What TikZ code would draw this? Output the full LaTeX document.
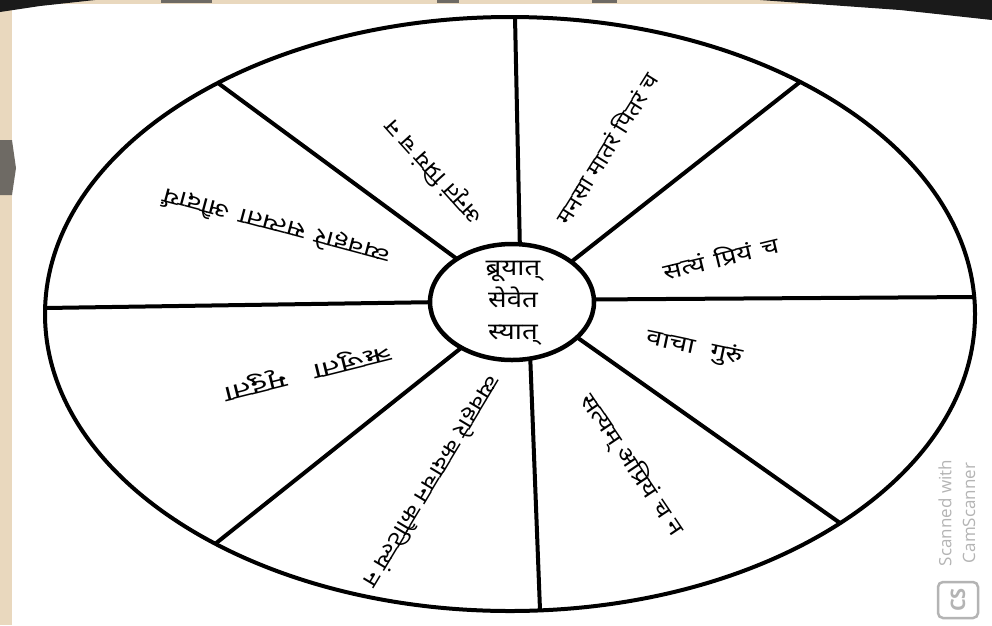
\documentclass[tikz,border=0pt]{standalone}
\usepackage{fontspec}
\usetikzlibrary{shapes.geometric}
\newfontfamily\dev[Script=Devanagari]{Noto Sans}
\newfontfamily\wm{Open Sans}
\definecolor{scanbeige}{HTML}{E9D8BE}
\definecolor{scandark}{HTML}{1A1A1A}
\definecolor{scangray}{HTML}{6E6A64}
\definecolor{wmgray}{HTML}{B4B4B4}
\newcommand\gap[1]{\hspace{#1pt}}
\begin{document}
\begin{tikzpicture}[x=1pt,y=-1pt,
  rim/.style={line width=4pt, draw=black},
  spoke/.style={line width=4pt, draw=black},
  lbl/.style={font=\dev\fontsize{22}{26}\selectfont, inner sep=0pt},
  hubtext/.style={font=\dev\fontsize{23}{32}\selectfont, align=center, inner sep=0pt, xscale=1.2},
  wmtext/.style={font=\wm\fontsize{17}{20}\selectfont, text=wmgray, inner sep=0pt, rotate=90}]
\useasboundingbox (0,0) rectangle (992,625);
\fill[white] (0,0) rectangle (992,625);
% scan edges
\fill[scanbeige] (0,0) rectangle (12,625);
\fill[scanbeige] (0,0) rectangle (992,4);
\fill[scandark] (0,0) -- (95,0) -- (40,6) -- (0,12) -- cycle;
\fill[scandark] (760,0) -- (992,0) -- (992,20) -- (900,10) -- cycle;
\fill[scangray] (161,0) rectangle (212,3);
\fill[scangray] (437,0) rectangle (459,3);
\fill[scangray] (592,0) rectangle (617,3);
\fill[scangray] (0,140) -- (12,140) -- (16,168) -- (12,195) -- (0,195) -- cycle;

% outer wheel
\coordinate (O) at (510,314);
\draw[rim] (O) ellipse [x radius=465pt, y radius=297pt];

% spoke ends on the rim
\coordinate (o1) at (515,17);
\coordinate (o2) at (800,82);
\coordinate (o3) at (974,297);
\coordinate (o4) at (840,523);
\coordinate (o5) at (540,610);
\coordinate (o6) at (215,544);
\coordinate (o7) at (45,308);
\coordinate (o8) at (218,83);
% spoke ends under the hub
\coordinate (i1) at (521,300);
\coordinate (i2) at (510,310);
\coordinate (i3) at (510,300);
\coordinate (i4) at (510,290);
\coordinate (i5) at (528,300);
\coordinate (i6) at (510,309);
\coordinate (i7) at (510,301);
\coordinate (i8) at (510,298);
\foreach \k in {1,...,8} \draw[spoke] (o\k) -- (i\k);

% hub
\node[ellipse, draw, line width=4.5pt, fill=white, minimum width=164pt, minimum height=116pt] (hub) at (512,302) {};
\node[hubtext] (hubt) at (513,303) {ब्रूयात्\\सेवेत\\स्यात्};

% sector labels
\node[lbl, rotate=58, xscale=1.1] (t1) at (606,148) {मनसा मातरं पितरं च};
\node[lbl, rotate=13.5, xscale=1.25] (t2) at (721,257) {सत्यं\gap{8}प्रियं\gap{8}च};
\node[lbl, rotate=-12, xscale=1.3] (t3) at (695,348) {वाचा\gap{12}गुरुं};
\node[lbl, rotate=-56, xscale=1.2] (t4) at (632,465) {सत्यम् अप्रियं च न};
\node[lbl, rotate=239, xscale=1.15] (t5) at (432,482) {व्यवहारे कदाचन कौटिल्यं न};
\node[lbl, rotate=194, xscale=1.5] (t6) at (307,371) {ऋजुता\gap{18}मृदुता};
\node[lbl, rotate=165, xscale=1.3] (t7) at (276,226) {व्यवहारे\gap{8}सत्यता\gap{8}औदार्यं};
\node[lbl, rotate=132, xscale=1.15] (t8) at (434,172) {अनृतं प्रियं च न};

% watermark
\node[wmtext] (wm1) at (945,513) {Scanned with};
\node[wmtext] (wm2) at (969,513) {CamScanner};
\node[draw=wmgray, line width=2.5pt, rounded corners=5pt, minimum width=40pt, minimum height=36pt, inner sep=0pt] (logo) at (958,600) {};
\node[font=\wm\bfseries\fontsize{20}{20}\selectfont, text=wmgray, rotate=90, inner sep=0pt] (logot) at (logo.center) {CS};
\end{tikzpicture}
\end{document}
